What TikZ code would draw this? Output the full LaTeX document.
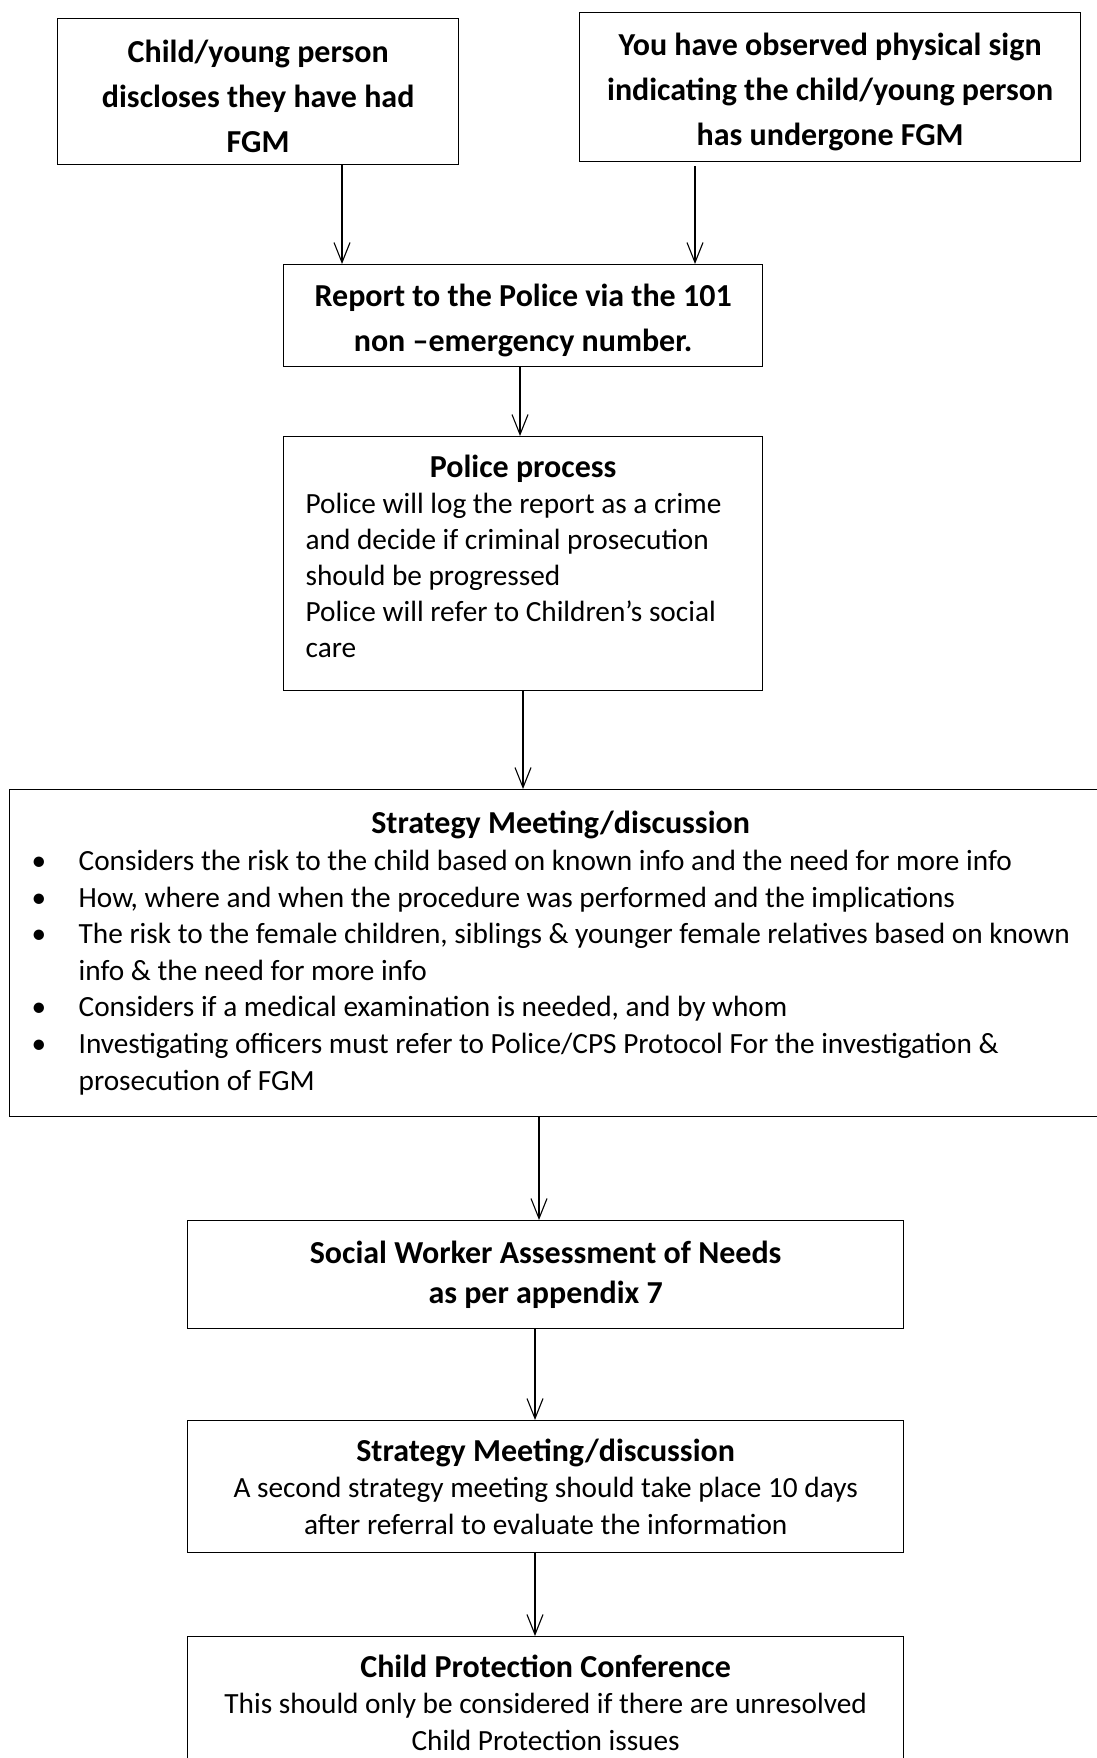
\documentclass[tikz,border=0pt]{standalone}
\usepackage{fontspec}
\setmainfont{Carlito}
\usetikzlibrary{arrows.meta}
\newcommand\hd{\fontsize{32}{45}\selectfont\bfseries\spaceskip=0.226em\relax}
\newcommand\hdb{\fontsize{32}{40}\selectfont\bfseries\spaceskip=0.226em\relax}
\newcommand\tx{\fontsize{29.3}{36.6}\selectfont\spaceskip=0.226em\relax}
\newcommand\txb{\fontsize{29.3}{36}\selectfont\spaceskip=0.226em\relax}
\newcommand\ttl[1]{{\fontsize{32}{36.6}\selectfont\bfseries\spaceskip=0.226em\relax #1}}
\newcommand\bul[1]{\hspace*{22pt}\makebox[47pt][l]{\textbullet}#1}
\newcommand\cont[1]{\hspace*{69pt}#1}
\newcommand\lift{\rule{0pt}{32pt}}

\begin{document}
\begin{tikzpicture}[
    x=1pt, y=-1pt,
    box/.style={draw, line width=1.3pt, anchor=north west, inner xsep=0pt, inner ysep=0pt, align=flush center},
    arr/.style={-{Straight Barb[length=20pt,width=16pt]}, line width=1.1pt}
  ]
  \useasboundingbox (0,0) rectangle (1097,1758);
  \node[box, text width=401pt, minimum height=146pt, font=\hd] (disc) at (57,18)
    {\lift Child/young person\\discloses they have had\\FGM};
  \node[box, text width=501pt, minimum height=149pt, font=\hd] (sign) at (579,12)
    {\lift You have observed physical sign\\indicating the child/young person\\has undergone FGM};
  \node[box, text width=479pt, minimum height=102pt, font=\hd] (report) at (283,264)
    {\lift Report to the Police via the 101\\non –emergency number.};
  \node[box, text width=479pt, minimum height=254pt, font=\txb, align=flush left] (police) at (283,436)
    {\makebox[479pt][c]{\ttl{Police process}}\\
     \hspace*{22pt}Police will log the report as a crime\\
     \hspace*{22pt}and decide if criminal prosecution\\
     \hspace*{22pt}should be progressed\\
     \hspace*{22pt}Police will refer to Children’s social\\
     \hspace*{22pt}care\rule[-14pt]{0pt}{0pt}};
  \node[box, text width=1102pt, minimum height=327pt, font=\tx, align=flush left] (meet) at (9,789)
    {\makebox[1102pt][c]{\ttl{Strategy Meeting/discussion}}\\
     \bul{Considers the risk to the child based on known info and the need for more info}\\
     \bul{How, where and when the procedure was performed and the implications}\\
     \bul{The risk to the female children, siblings \& younger female relatives based on known}\\
     \cont{info \& the need for more info}\\
     \bul{Considers if a medical examination is needed, and by whom}\\
     \bul{Investigating officers must refer to Police/CPS Protocol For the investigation \&}\\
     \cont{prosecution of FGM}};
  \node[box, text width=716pt, minimum height=108pt, font=\hdb] (assess) at (187,1220)
    {Social Worker Assessment of Needs\\as per appendix 7};
  \node[box, text width=716pt, minimum height=132pt, font=\tx] (meet2) at (187,1420)
    {\ttl{Strategy Meeting/discussion}\\
     A second strategy meeting should take place 10 days\\
     after referral to evaluate the information};
  \node[box, text width=716pt, minimum height=132pt, font=\tx] (conf) at (187,1636)
    {\ttl{Child Protection Conference}\\
     This should only be considered if there are unresolved\\
     Child Protection issues};

  \coordinate (ax1) at (342,0);
  \coordinate (ax2) at (695,0);
  \coordinate (ax3) at (520,0);
  \coordinate (ax4) at (523,0);
  \coordinate (ax5) at (539,0);
  \coordinate (ax6) at (535,0);
  \draw[arr] (disc.south -| ax1) -- (report.north -| ax1);
  \draw[arr] ([yshift=-4pt]sign.south -| ax2) -- (report.north -| ax2);
  \draw[arr] (report.south -| ax3) -- (police.north -| ax3);
  \draw[arr] (police.south -| ax4) -- (meet.north -| ax4);
  \draw[arr] (meet.south -| ax5) -- (assess.north -| ax5);
  \draw[arr] (assess.south -| ax6) -- (meet2.north -| ax6);
  \draw[arr] (meet2.south -| ax6) -- (conf.north -| ax6);
\end{tikzpicture}
\end{document}
